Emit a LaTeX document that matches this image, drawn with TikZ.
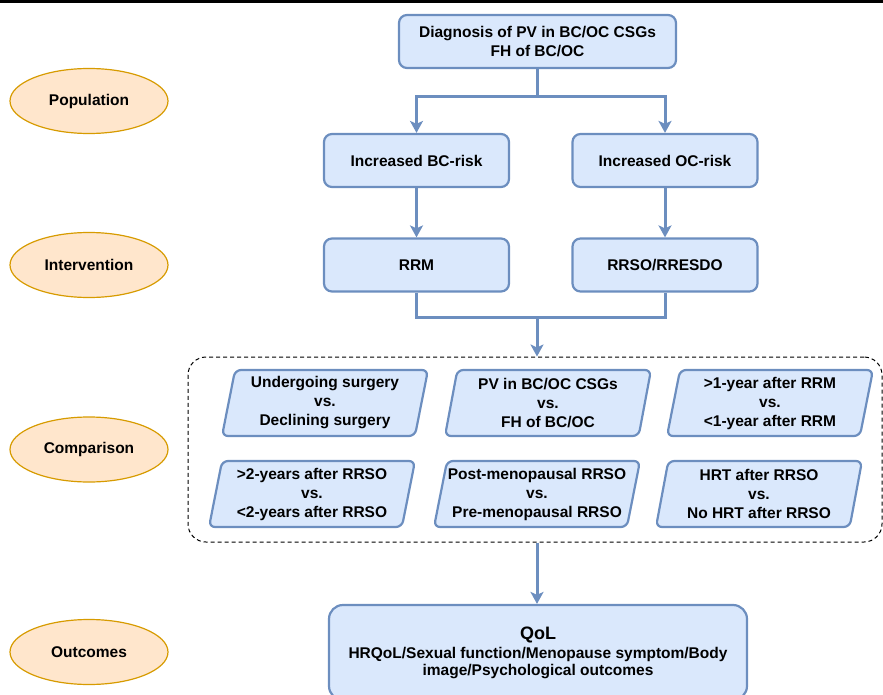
\documentclass[tikz,border=0pt]{standalone}
\usepackage{fontspec}
\setmainfont{Liberation Sans}
\usetikzlibrary{arrows.meta,positioning,shapes.geometric}
\definecolor{boxfill}{HTML}{DAE8FC}
\definecolor{boxline}{HTML}{6C8EBF}
\definecolor{picofill}{HTML}{FFE6CC}
\definecolor{picoline}{HTML}{D79B00}

\begin{document}
\begin{tikzpicture}[x=1pt,y=-1pt,>={Stealth[length=12pt,width=13pt,inset=3pt]},
  font=\fontsize{15.5}{19}\selectfont\bfseries,
  picolabel/.style={ellipse,draw=picoline,line width=1.2pt,fill=picofill,
    minimum width=158pt,minimum height=65pt,inner sep=0pt},
  stepbox/.style={draw=boxline,line width=2.2pt,fill=boxfill,rounded corners=8pt,
    align=center,minimum width=185pt,minimum height=53pt},
  cmpbox/.style={trapezium,trapezium left angle=76,trapezium right angle=104,
    trapezium stretches body,draw=boxline,line width=2.2pt,fill=boxfill,
    rounded corners=6pt,align=center,inner sep=0pt,inner xsep=-6pt,
    minimum width=206pt,minimum height=66pt},
  flow/.style={->,draw=boxline,line width=3pt}]
  \useasboundingbox (0,0) rectangle (883,695);
  \clip (0,0) rectangle (883,695);
  \fill[black] (0,0) rectangle (883,3.5);

  % PICO labels
  \node[picolabel] (pop) at (89,101) {Population};
  \node[picolabel] (inter) at (89,265) {Intervention};
  \node[picolabel] (comp) at (89,449.5) {Comparison};
  \node[picolabel] (outc) at (89,652) {Outcomes};

  % population and intervention
  \node[stepbox,minimum width=277pt] (diag) at (537.5,41.5)
    {Diagnosis of PV in BC/OC CSGs\\FH of BC/OC};
  \node[stepbox] (bcrisk) at (416.5,160.5) {Increased BC-risk};
  \node[stepbox] (ocrisk) at (665,160.5) {Increased OC-risk};
  \node[stepbox] (rrm) at (416.5,265) {RRM};
  \node[stepbox] (rrso) at (665,265) {RRSO/RRESDO};

  % comparisons
  \node[draw,dashed,dash pattern=on 4pt off 3pt,line width=1pt,rounded corners=18pt,
    minimum width=694pt,minimum height=185pt] (cmpgroup) at (535,449.5) {};
  \node[cmpbox] (surg) at (325,403) {Undergoing surgery\\vs.\\Declining surgery};
  \node[cmpbox] (pvfh) at (548,403) {PV in BC/OC CSGs\\vs.\\FH of BC/OC};
  \node[cmpbox] (rrmyr) at (770,403) {>1-year after RRM\\vs.\\<1-year after RRM};
  \node[cmpbox] (rrsoyr) at (312,494) {>2-years after RRSO\\vs.\\<2-years after RRSO};
  \node[cmpbox] (meno) at (537,494) {Post-menopausal RRSO\\vs.\\Pre-menopausal RRSO};
  \node[cmpbox] (hrt) at (759,494) {HRT after RRSO\\vs.\\No HRT after RRSO};

  % outcomes
  \node[stepbox,minimum width=418pt,minimum height=95pt,rounded corners=14pt] (qol) at (538,652.5)
    {{\fontsize{18}{22}\selectfont QoL}\\HRQoL/Sexual function/Menopause symptom/Body\\[-2pt]image/Psychological outcomes};

  % connectors
  \coordinate (split) at (537.5,97);
  \coordinate (merge) at (537,317);
  \draw[boxline,line width=3pt] (diag.south) -- (split);
  \draw[flow] (split) -| (bcrisk.north);
  \draw[flow] (split) -| (ocrisk.north);
  \draw[flow] (bcrisk) -- (rrm);
  \draw[flow] (ocrisk) -- (rrso);
  \draw[boxline,line width=3pt] (rrm.south) |- (merge) -| (rrso.south);
  \draw[flow] (merge) -- (merge |- cmpgroup.north);
  \draw[flow] (cmpgroup.south -| merge) -- (merge |- qol.north);
\end{tikzpicture}
\end{document}
